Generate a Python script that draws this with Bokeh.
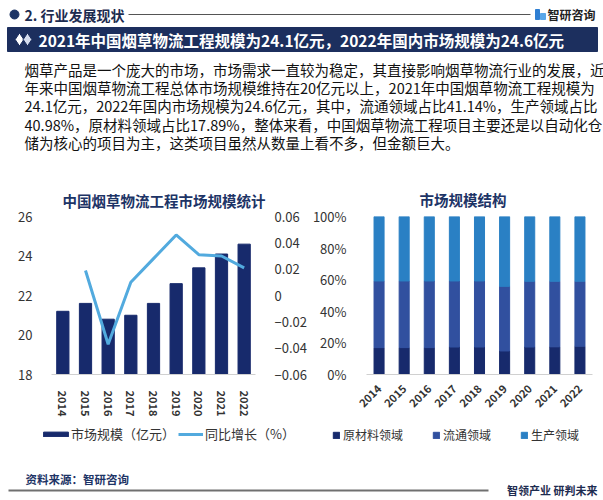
import math
from bokeh.plotting import figure
from bokeh.models import (Range1d, FactorRange, LinearAxis, FixedTicker, Legend, LegendItem,
                          PrintfTickFormatter, ColumnDataSource)
from bokeh.layouts import column, row
from bokeh.embed import file_html
from bokeh.resources import INLINE
from bokeh.core.properties import value

# ---------------- data ----------------
section_title = "2. 行业发展现状"
brand = "智研咨询"
headline = "2021年中国烟草物流工程规模为24.1亿元，2022年国内市场规模为24.6亿元"
para_lines = [
    "烟草产品是一个庞大的市场，市场需求一直较为稳定，其直接影响烟草物流行业的发展，近",
    "年来中国烟草物流工程总体市场规模维持在20亿元以上，2021年中国烟草物流工程规模为",
    "24.1亿元，2022年国内市场规模为24.6亿元，其中，流通领域占比41.14%，生产领域占比",
    "40.98%，原材料领域占比17.89%，整体来看，中国烟草物流工程项目主要还是以自动化仓",
    "储为核心的项目为主，这类项目虽然从数量上看不多，但金额巨大。",
]
left_title = "中国烟草物流工程市场规模统计"
right_title = "市场规模结构"
years = ["2014", "2015", "2016", "2017", "2018", "2019", "2020", "2021", "2022"]
market_size = [21.2, 21.6, 20.8, 21.0, 21.6, 22.6, 23.4, 24.1, 24.6]
growth_years = ["2015", "2016", "2017", "2018", "2019", "2020", "2021", "2022"]
growth = [0.019, -0.037, 0.010, 0.028, 0.046, 0.031, 0.030, 0.021]
left_legend = ["市场规模（亿元）", "同比增长（%）"]
share_raw = [17.0, 17.0, 17.0, 17.4, 17.4, 14.9, 17.4, 17.5, 17.89]
share_circ = [42.2, 42.2, 42.2, 41.8, 41.8, 40.9, 41.6, 41.5, 41.14]
share_prod = [40.8, 40.8, 40.8, 40.8, 40.8, 44.2, 41.0, 41.0, 40.98]
right_legend = ["原材料领域", "流通领域", "生产领域"]
left_ticks = [18, 20, 22, 24, 26]
growth_ticks = [-0.06, -0.04, -0.02, 0, 0.02, 0.04, 0.06]
pct_ticks = [0, 20, 40, 60, 80, 100]
source_text = "资料来源：智研咨询"
slogan = "智领产业 研判未来"

# ---------------- style ----------------
CJK_NAME = "Noto Sans CJK SC"
CJK = value(CJK_NAME)
NAVY = "#1d3466"
BAR = "#172a6c"
LINE = "#52aade"
C_RAW = "#172a6c"
C_CIRC = "#31509f"
C_PROD = "#2a80c4"
STACK_COLORS = [C_RAW, C_CIRC, C_PROD]
TXT = "#333333"


def blank(w, y0, y1):
    p = figure(width=w, height=y1 - y0, x_range=Range1d(0, w), y_range=Range1d(y1, y0),
               output_backend="svg", toolbar_location=None, x_axis_location=None,
               y_axis_location=None, min_border=0, outline_line_color=None)
    p.xgrid.visible = False
    p.ygrid.visible = False
    return p


# ---------------- header ----------------
hd = blank(603, 0, 180)
hd.scatter(x=[14], y=[14], size=9, color=NAVY)
hd.text(x=[24], y=[14], text=[section_title], text_font=CJK, text_font_size="14px",
        text_font_style="bold", text_color="#1d2c50", text_baseline="middle")
hd.segment(x0=[128], y0=[14], x1=[530], y1=[14], line_color="#555555", line_width=1)
hd.quad(left=[535], right=[539], top=[9], bottom=[19], color="#2f7fd3")
hd.quad(left=[540], right=[545], top=[13], bottom=[19], color="#5aa7e8")
hd.text(x=[547], y=[14], text=[brand], text_font=CJK, text_font_size="12px",
        text_font_style="bold", text_color="#222222", text_baseline="middle")
hd.quad(left=[7], right=[597], top=[27], bottom=[51], color="#1c2f5e")
hd.scatter(x=[19, 27], y=[39, 39], marker="diamond", size=13, color=["white", "#d5ddee"],
           line_color="#1c2f5e", line_width=1)
hd.text(x=[38], y=[39.5], text=[headline], text_font=CJK, text_font_size="15.5px",
        text_font_style="bold", text_color="white", text_baseline="middle")
hd.text(x=[24] * len(para_lines), y=[68.5 + i * 18.35 for i in range(len(para_lines))],
        text=para_lines, text_font=CJK, text_font_size="14.5px", text_color="#111111",
        text_baseline="middle")

# ---------------- left chart ----------------
src = ColumnDataSource(dict(year=years, size=market_size))
pl = figure(width=309, height=245, x_range=FactorRange(*years), y_range=Range1d(18, 26),
            output_backend="svg", toolbar_location=None, min_border_left=51,
            min_border_right=45, min_border_top=30, min_border_bottom=51,
            outline_line_color=None, title=left_title)
pl.title.align = "left"
pl.title.offset = 11
pl.title.text_font = CJK_NAME
pl.title.text_font_size = "14.5px"
pl.title.text_font_style = "bold"
pl.title.text_color = NAVY
pl.title.standoff = 11
pl.vbar(x="year", top="size", bottom=18, width=0.54, color=BAR, source=src)
pl.extra_y_ranges = {"g": Range1d(-0.06, 0.06)}
pl.line(x=growth_years, y=growth, y_range_name="g", line_color=LINE, line_width=3)
gax = LinearAxis(y_range_name="g", ticker=FixedTicker(ticks=growth_ticks),
                 major_label_overrides={0: "0"})
pl.add_layout(gax, "right")
pl.yaxis[0].ticker = FixedTicker(ticks=left_ticks)
pl.xgrid.visible = False
pl.ygrid.visible = False
for ax in pl.yaxis:
    ax.axis_line_color = None
    ax.major_tick_line_color = None
    ax.minor_tick_line_color = None
    ax.major_label_text_font = CJK_NAME
    ax.major_label_text_font_size = "13px"
    ax.major_label_text_color = TXT
    ax.major_label_standoff = 13
pl.xaxis.axis_line_color = "#d0d0d0"
pl.xaxis.major_tick_line_color = None
pl.xaxis.minor_tick_line_color = None
pl.xaxis.major_label_orientation = "vertical"
pl.xaxis.major_label_text_font = CJK_NAME
pl.xaxis.major_label_text_font_size = "11px"
pl.xaxis.major_label_text_font_style = "bold"
pl.xaxis.major_label_text_color = TXT
pl.xaxis.major_label_standoff = 10

# ---------------- right chart ----------------
src2 = ColumnDataSource(dict(year=years, raw=share_raw, circ=share_circ, prod=share_prod))
pr = figure(width=294, height=245, x_range=FactorRange(*years), y_range=Range1d(0, 100),
            output_backend="svg", toolbar_location=None, min_border_left=46,
            min_border_right=11, min_border_top=33, min_border_bottom=45,
            outline_line_color=None, title=right_title)
pr.title.align = "left"
pr.title.offset = 53
pr.title.text_font = CJK_NAME
pr.title.text_font_size = "14.5px"
pr.title.text_font_style = "bold"
pr.title.text_color = NAVY
pr.title.standoff = 13
pr.vbar_stack(["raw", "circ", "prod"], x="year", width=0.4, color=STACK_COLORS, source=src2)
pr.xgrid.visible = False
pr.ygrid.visible = False
pr.yaxis.ticker = FixedTicker(ticks=pct_ticks)
pr.yaxis.formatter = PrintfTickFormatter(format="%d%%")
pr.yaxis.axis_line_color = None
pr.yaxis.major_tick_line_color = None
pr.yaxis.minor_tick_line_color = None
pr.yaxis.major_label_text_font = CJK_NAME
pr.yaxis.major_label_text_font_size = "13px"
pr.yaxis.major_label_text_color = TXT
pr.yaxis.major_label_standoff = 14
pr.xaxis.axis_line_color = "#d0d0d0"
pr.xaxis.major_tick_line_color = None
pr.xaxis.minor_tick_line_color = None
pr.xaxis.major_label_orientation = math.pi / 4
pr.xaxis.major_label_text_font = CJK_NAME
pr.xaxis.major_label_text_font_size = "11px"
pr.xaxis.major_label_text_font_style = "bold"
pr.xaxis.major_label_text_color = TXT
pr.xaxis.major_label_standoff = 6

# ---------------- legend strip ----------------
# legend-only renderers (hidden), so that the legend glyphs are drawn by Bokeh itself
lg = blank(603, 425, 447)
sw_bar = lg.vbar(x=[0], top=[0], width=1, color=BAR, visible=False)
sw_line = lg.line(x=[0, 1], y=[0, 0], line_color=LINE, line_width=3, visible=False)
sw_stack = [lg.vbar(x=[0], top=[0], width=1, color=c, visible=False) for c in STACK_COLORS]

common = dict(orientation="horizontal", padding=0, margin=0, label_height=16,
              border_line_color=None, background_fill_alpha=0, label_text_font=CJK_NAME,
              label_text_color=TXT, inactive_fill_alpha=0)
leg1 = Legend(items=[LegendItem(label=left_legend[0], renderers=[sw_bar])], location=(40, 4),
              glyph_width=31, glyph_height=6, label_standoff=0, spacing=0,
              label_text_font_size="13px", **common)
leg2 = Legend(items=[LegendItem(label=left_legend[1], renderers=[sw_line])], location=(178, 4),
              glyph_width=25, glyph_height=6, label_standoff=2, spacing=0,
              label_text_font_size="13px", **common)
leg3 = Legend(items=[LegendItem(label=lab, renderers=[r]) for lab, r in zip(right_legend, sw_stack)],
              location=(332, 4), glyph_width=8, glyph_height=8, label_standoff=3, spacing=29,
              label_text_font_size="12px", **common)
lg.add_layout(leg1)
lg.add_layout(leg2)
lg.add_layout(leg3)

# ---------------- footer ----------------
ft = blank(603, 447, 500)
ft.text(x=[25], y=[478], text=[source_text], text_font=CJK, text_font_size="11.5px",
        text_font_style="bold", text_color=NAVY, text_baseline="middle")
ft.segment(x0=[8], y0=[490], x1=[488], y1=[490], line_color="#707070", line_width=2)
ft.text(x=[597], y=[489], text=[slogan], text_font=CJK, text_font_size="11px",
        text_font_style="bold", text_color="#1d2c50", text_baseline="middle",
        text_align="right")

layout = column(hd, row(pl, pr, spacing=0), lg, ft, spacing=0)
html = file_html(layout, INLINE, title="chart")
html = html.replace("<head>", "<head><style>html,body{margin:0 !important;padding:0;overflow:hidden;}</style>", 1)
open("out.html", "w").write(html)
